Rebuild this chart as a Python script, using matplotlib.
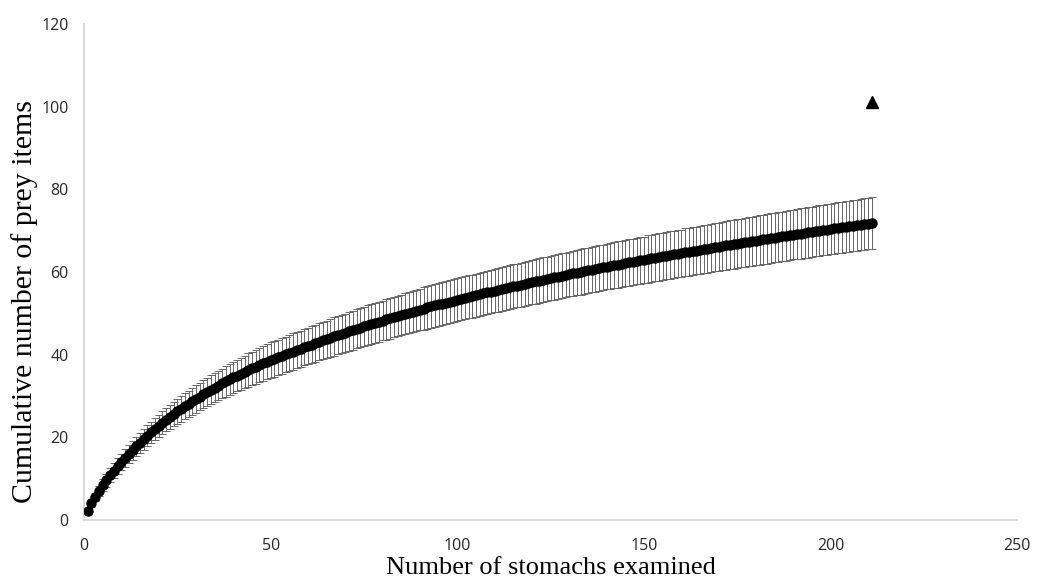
import matplotlib.pyplot as plt

# numero de estomagos (1..211)
estomagos = list(range(1, 212))

# media acumulada de itens de presa
mediaPresas = [
    2.2, 4.0, 5.6, 7.0, 8.4, 9.6, 10.8, 11.9, 13.0, 14.0,
    14.98, 15.94, 16.87, 17.78, 18.67, 19.54, 20.38, 21.20, 22.00, 22.77,
    23.52, 24.25, 24.95, 25.63, 26.29, 26.91, 27.52, 28.12, 28.71, 29.29,
    29.85, 30.41, 30.96, 31.49, 32.02, 32.53, 33.04, 33.53, 34.02, 34.49,
    34.95, 35.40, 35.84, 36.28, 36.70, 37.11, 37.51, 37.89, 38.27, 38.64,
    39.00, 39.36, 39.71, 40.06, 40.41, 40.76, 41.10, 41.44, 41.78, 42.12,
    42.45, 42.78, 43.11, 43.43, 43.75, 44.07, 44.39, 44.70, 45.01, 45.32,
    45.62, 45.93, 46.23, 46.52, 46.82, 47.11, 47.40, 47.69, 47.97, 48.25,
    48.53, 48.80, 49.08, 49.35, 49.61, 49.88, 50.14, 50.40, 50.66, 50.91,
    51.16, 51.41, 51.65, 51.90, 52.14, 52.37, 52.61, 52.84, 53.07, 53.29,
    53.51, 53.74, 53.96, 54.18, 54.40, 54.61, 54.83, 55.05, 55.26, 55.47,
    55.68, 55.89, 56.10, 56.31, 56.52, 56.72, 56.93, 57.13, 57.33, 57.53,
    57.73, 57.93, 58.13, 58.32, 58.52, 58.71, 58.90, 59.09, 59.28, 59.47,
    59.66, 59.84, 60.03, 60.21, 60.39, 60.57, 60.75, 60.93, 61.11, 61.28,
    61.46, 61.63, 61.80, 61.97, 62.14, 62.31, 62.48, 62.64, 62.81, 62.97,
    63.13, 63.29, 63.46, 63.62, 63.78, 63.94, 64.09, 64.25, 64.41, 64.57,
    64.72, 64.88, 65.03, 65.19, 65.34, 65.50, 65.65, 65.80, 65.95, 66.11,
    66.26, 66.41, 66.56, 66.71, 66.86, 67.00, 67.15, 67.30, 67.45, 67.59,
    67.74, 67.88, 68.03, 68.17, 68.31, 68.46, 68.60, 68.74, 68.88, 69.02,
    69.16, 69.30, 69.44, 69.58, 69.72, 69.86, 69.99, 70.13, 70.26, 70.40,
    70.53, 70.67, 70.80, 70.93, 71.07, 71.20, 71.33, 71.46, 71.59, 71.72,
    71.85,
]

# desvio padrao (barras de erro)
desvioPresas = (
    [0.5, 0.8, 1.0, 1.2, 1.4, 1.6, 1.7, 1.8, 1.9, 2.0]
    + [2.1, 2.2, 2.3, 2.3, 2.4, 2.5, 2.5, 2.6, 2.7, 2.7, 2.8, 2.8, 2.9, 2.9, 3.0]
    + [3.1, 3.1, 3.2, 3.2, 3.3, 3.3, 3.4, 3.4, 3.5, 3.5, 3.6, 3.6, 3.7,
       3.7, 3.8, 3.8, 3.9, 3.9, 4.0, 4.0, 4.1, 4.1, 4.2, 4.2, 4.3]
    + [4.3] * 5 + [4.4] * 5 + [4.5] * 5 + [4.6] * 5 + [4.7] * 5
    + [4.8] * 5 + [4.9] * 5 + [5.0] * 5 + [5.1] * 5 + [5.2] * 5
    + [5.2] * 10 + [5.3] * 10 + [5.4] * 10 + [5.5] * 10 + [5.6] * 10
    + [5.7] * 10 + [5.8] * 10 + [5.9] * 10 + [6.0] * 10 + [6.1] * 10 + [6.2] * 11
)

# total observado (triangulo)
totalX = [211]
totalY = [101]

fig = plt.figure(figsize=(10.37, 5.84), dpi=100)
ax = fig.add_axes([0.081, 0.1096, 0.9, 0.8494])

# barras de erro
ax.errorbar(
    estomagos, mediaPresas, yerr=desvioPresas,
    fmt='none',
    ecolor='#666666',
    elinewidth=0.7,
    capsize=3,
    capthick=0.7,
    zorder=2
)

# pontos da media
ax.plot(estomagos, mediaPresas, 'o', color='black', markersize=6.5, zorder=3)

ax.plot(totalX, totalY, '^', color='black', markersize=9, zorder=3)

ax.set_xlim(0, 250)
ax.set_ylim(0, 120)
ax.set_xticks([0, 50, 100, 150, 200, 250])
ax.set_yticks([0, 20, 40, 60, 80, 100, 120])
ax.tick_params(length=0, labelsize=11.5, labelcolor='#262626')
ax.tick_params(axis='y', pad=11)
ax.tick_params(axis='x', pad=13)
for lbl in ax.get_xticklabels() + ax.get_yticklabels():
    lbl.set_family('Open Sans')

for lado in ['top', 'right']:
    ax.spines[lado].set_visible(False)
for lado in ['left', 'bottom']:
    ax.spines[lado].set_color('#d9d9d9')
    ax.spines[lado].set_linewidth(1.5)

ax.set_xlabel('Number of stomachs examined', fontsize=19, family='Liberation Serif')
ax.xaxis.set_label_coords(0.5, -0.074)
ax.set_ylabel('Cumulative number of prey items', fontsize=21.5, family='Liberation Serif')
ax.yaxis.set_label_coords(-0.049, 0.44)

plt.savefig('out.png', dpi=100)
plt.close()
